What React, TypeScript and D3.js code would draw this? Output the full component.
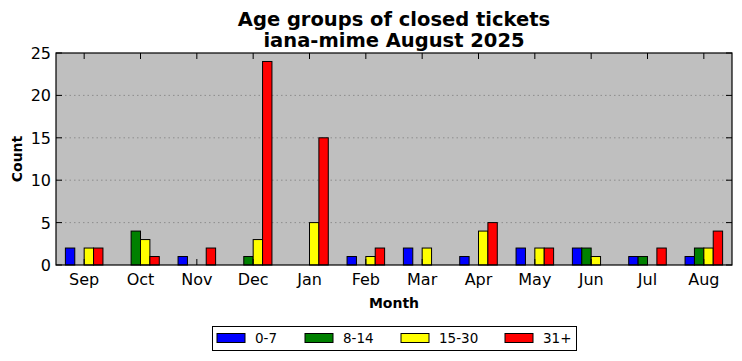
import * as d3 from "d3";
import { useEffect, useRef } from "react";

const months = ["Sep", "Oct", "Nov", "Dec", "Jan", "Feb", "Mar", "Apr", "May", "Jun", "Jul", "Aug"];
const groups = ["0-7", "8-14", "15-30", "31+"];
const colors = ["#0000ff", "#008000", "#ffff00", "#ff0000"];

// counts per month, one array per age group
const age0to7 = [2, 0, 1, 0, 0, 1, 2, 1, 2, 2, 1, 1];
const age8to14 = [0, 4, 0, 1, 0, 0, 0, 0, 0, 2, 1, 2];
const age15to30 = [2, 3, 0, 3, 5, 1, 2, 4, 2, 1, 0, 2];
const age31plus = [2, 1, 2, 24, 15, 2, 0, 5, 2, 0, 2, 4];

const yTicks = [0, 5, 10, 15, 20, 25];

export default function App() {
    const svgRef = useRef<SVGSVGElement | null>(null);

    useEffect(() => {
        if (!svgRef.current) return;
        const svg = d3.select(svgRef.current);
        svg.selectAll("*").remove();

        const width = 742;
        const height = 361;
        const left = 56, right = 732, top = 53, bottom = 265;
        const font = "DejaVu Sans, sans-serif";

        const series = [age0to7, age8to14, age15to30, age31plus];

        const x = d3.scaleBand<string>().domain(months).range([left, right]).padding(0);
        const y = d3.scaleLinear().domain([0, 25]).range([bottom, top]);
        const barW = x.bandwidth() / 6;

        svg.attr("width", width).attr("height", height);

        // plot background
        svg.append("rect")
            .attr("x", left).attr("y", top)
            .attr("width", right - left).attr("height", bottom - top)
            .attr("fill", "#bfbfbf");

        // grid
        svg.append("g")
            .selectAll("line")
            .data(yTicks.filter((t) => t > 0 && t < 25))
            .enter()
            .append("line")
            .attr("x1", left).attr("x2", right)
            .attr("y1", (d) => y(d)).attr("y2", (d) => y(d))
            .attr("stroke", "#808080")
            .attr("stroke-width", 0.8)
            .attr("stroke-dasharray", "1.5,3");

        // bars
        series.forEach((vals, gi) => {
            svg.append("g")
                .selectAll("rect")
                .data(vals.map((v, i) => ({ m: months[i], v })))
                .enter()
                .filter((d) => d.v > 0)
                .append("rect")
                .attr("x", (d) => x(d.m)! + x.bandwidth() / 2 + (gi - 2) * barW)
                .attr("y", (d) => y(d.v))
                .attr("width", barW)
                .attr("height", (d) => y(0) - y(d.v))
                .attr("fill", colors[gi])
                .attr("stroke", "#000")
                .attr("stroke-width", 1);
        });

        // frame
        svg.append("rect")
            .attr("x", left).attr("y", top)
            .attr("width", right - left).attr("height", bottom - top)
            .attr("fill", "none")
            .attr("stroke", "#000")
            .attr("stroke-width", 1.2);

        const tickLen = 6;
        const ticks = svg.append("g").attr("stroke", "#000").attr("stroke-width", 1);
        months.forEach((m) => {
            const cx = x(m)! + x.bandwidth() / 2;
            ticks.append("line").attr("x1", cx).attr("x2", cx).attr("y1", bottom).attr("y2", bottom - tickLen);
            ticks.append("line").attr("x1", cx).attr("x2", cx).attr("y1", top).attr("y2", top + tickLen);
        });
        yTicks.forEach((t) => {
            ticks.append("line").attr("x1", left).attr("x2", left + tickLen).attr("y1", y(t)).attr("y2", y(t));
            ticks.append("line").attr("x1", right).attr("x2", right - tickLen).attr("y1", y(t)).attr("y2", y(t));
        });

        // tick labels
        svg.append("g")
            .selectAll("text")
            .data(months)
            .enter()
            .append("text")
            .attr("x", (d) => x(d)! + x.bandwidth() / 2)
            .attr("y", 285)
            .attr("text-anchor", "middle")
            .style("font-family", font)
            .style("font-size", "16px")
            .text((d) => d);

        svg.append("g")
            .selectAll("text")
            .data(yTicks)
            .enter()
            .append("text")
            .attr("x", left - 5)
            .attr("y", (d) => y(d) + 6)
            .attr("text-anchor", "end")
            .style("font-family", font)
            .style("font-size", "16px")
            .text((d) => d);

        // axis titles
        svg.append("text")
            .attr("x", (left + right) / 2)
            .attr("y", 308)
            .attr("text-anchor", "middle")
            .style("font-family", font)
            .style("font-size", "14px")
            .style("font-weight", "bold")
            .text("Month");

        svg.append("text")
            .attr("transform", `translate(22,${(top + bottom) / 2}) rotate(-90)`)
            .attr("text-anchor", "middle")
            .style("font-family", font)
            .style("font-size", "14px")
            .style("font-weight", "bold")
            .text("Count");

        // title
        const title = svg.append("text")
            .attr("text-anchor", "middle")
            .style("font-family", font)
            .style("font-size", "19.5px")
            .style("font-weight", "bold");
        title.append("tspan").attr("x", (left + right) / 2).attr("y", 26).text("Age groups of closed tickets");
        title.append("tspan").attr("x", (left + right) / 2).attr("y", 47).text("iana-mime August 2025");

        // legend
        const legend = svg.append("g");
        legend.append("rect")
            .attr("x", 212.5).attr("y", 326.5)
            .attr("width", 364).attr("height", 24)
            .attr("fill", "#fff")
            .attr("stroke", "#000")
            .attr("stroke-width", 1);
        const legendX = [217, 305, 401, 505];
        groups.forEach((g, i) => {
            legend.append("rect")
                .attr("x", legendX[i]).attr("y", 333.5)
                .attr("width", 28).attr("height", 9)
                .attr("fill", colors[i])
                .attr("stroke", "#000")
                .attr("stroke-width", 1);
            legend.append("text")
                .attr("x", legendX[i] + 38)
                .attr("y", 343)
                .style("font-family", font)
                .style("font-size", "13.5px")
                .text(g);
        });
    }, []);

    return <svg ref={svgRef} style={{ position: "absolute", left: 0, top: 0, display: "block" }} />;
}
